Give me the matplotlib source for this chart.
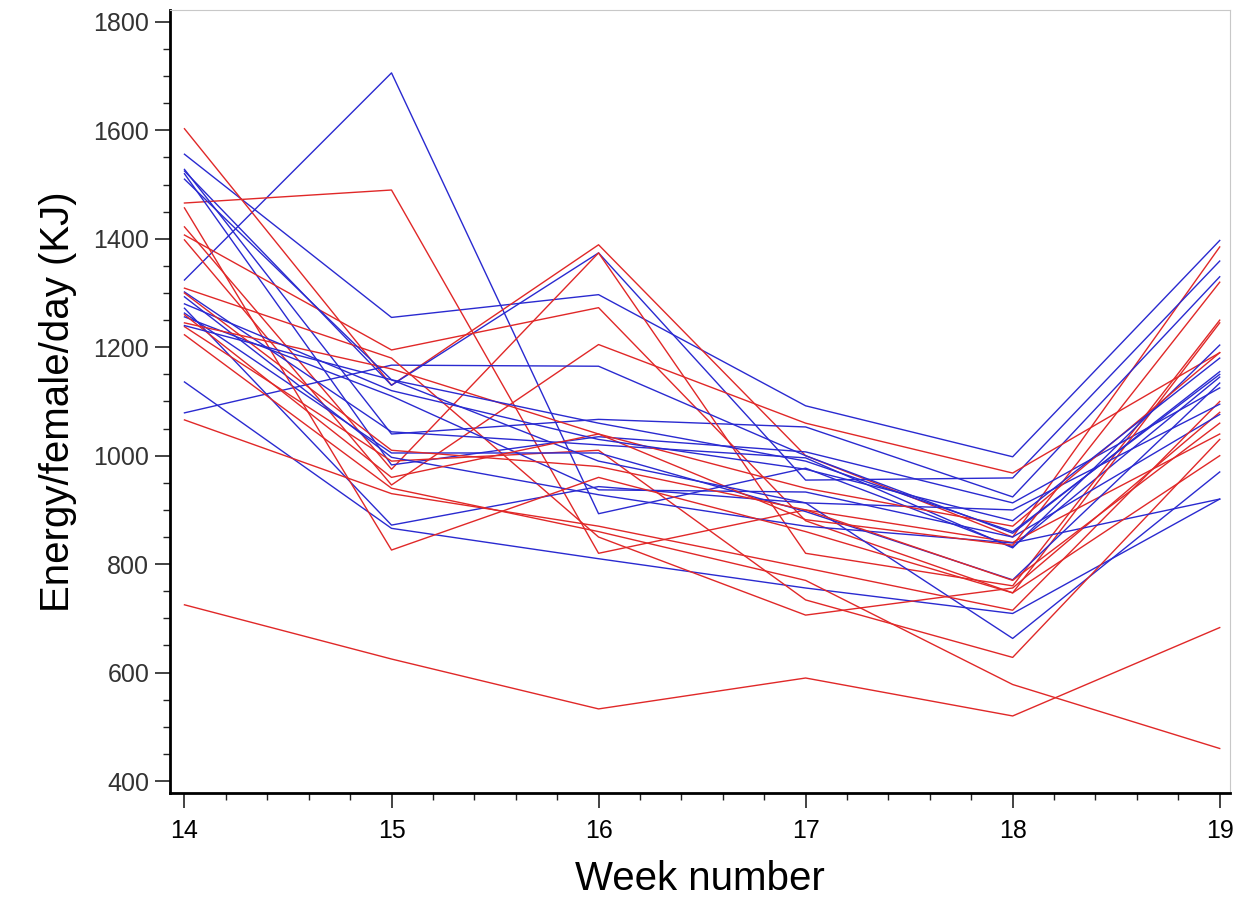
import matplotlib

matplotlib.use("Agg")
import matplotlib.pyplot as plt
from matplotlib.ticker import MultipleLocator

plt.rcParams["font.family"] = ["Liberation Sans", "DejaVu Sans"]

weeks = [14, 15, 16, 17, 18, 19]

# energy per female per day (KJ), one row per cage
red_series = [
    [725, 625, 533, 590, 520, 683],
    [1603, 1130, 1389, 1000, 850, 1385],
    [1466, 1490, 820, 900, 840, 1040],
    [1422, 975, 1374, 820, 760, 1250],
    [1407, 1195, 1273, 880, 747, 1245],
    [1398, 946, 1205, 1060, 968, 1190],
    [1309, 1180, 850, 706, 756, 1080],
    [1238, 990, 1010, 734, 628, 1030],
    [1223, 940, 860, 770, 578, 460],
    [1066, 930, 870, 793, 715, 1100],
    [1457, 826, 960, 860, 747, 1000],
    [1245, 1160, 1040, 882, 835, 1320],
    [1260, 960, 1040, 940, 870, 1190],
    [1300, 1010, 980, 900, 770, 1060],
]
blue_series = [
    [1324, 1706, 893, 977, 832, 1145],
    [1556, 1255, 1297, 1092, 998, 1397],
    [1525, 1130, 1374, 955, 959, 1359],
    [1528, 1040, 1067, 1053, 924, 1330],
    [1520, 983, 1035, 1007, 913, 1125],
    [1136, 866, 810, 756, 709, 920],
    [1079, 1167, 1165, 1000, 857, 1155],
    [1272, 872, 943, 913, 663, 970],
    [1263, 1005, 1005, 897, 771, 1134],
    [1256, 1110, 937, 933, 850, 1076],
    [1293, 997, 928, 870, 839, 920],
    [1302, 1044, 1020, 996, 830, 1204],
    [1510, 1140, 990, 913, 900, 1095],
    [1280, 1120, 1030, 975, 880, 1180],
    [1240, 1140, 1060, 990, 860, 1150],
]

RED = "#e02828"
BLUE = "#2a2ad0"

fig = plt.figure(figsize=(12.37, 9.08), dpi=100)
ax = fig.add_axes([0.1374, 0.1267, 0.857, 0.8623])

n = max(len(red_series), len(blue_series))
for i in range(n):
    if i < len(blue_series):
        ax.plot(weeks, blue_series[i], color=BLUE, linewidth=1.0)
    if i < len(red_series):
        ax.plot(weeks, red_series[i], color=RED, linewidth=1.0)

ax.set_xlim(13.93, 19.05)
ax.set_ylim(378, 1822)
ax.xaxis.set_major_locator(MultipleLocator(1))
ax.xaxis.set_minor_locator(MultipleLocator(0.2))
ax.yaxis.set_major_locator(MultipleLocator(200))
ax.yaxis.set_minor_locator(MultipleLocator(50))

ax.tick_params(axis="both", which="major", direction="out", length=11,
               width=1.2, color="#222222")
ax.tick_params(axis="both", which="minor", direction="out", length=5,
               width=1.0, color="#222222")
ax.tick_params(axis="x", which="major", labelsize=18, pad=8)
ax.tick_params(axis="y", which="major", labelsize=18, pad=4,
               labelcolor="#333333")

for side in ("left", "bottom"):
    ax.spines[side].set_linewidth(2.0)
    ax.spines[side].set_color("black")
for side in ("top", "right"):
    ax.spines[side].set_linewidth(0.8)
    ax.spines[side].set_color("#c8c8c8")

ax.set_xlabel("Week number", fontsize=29, labelpad=12)
ax.set_ylabel("Energy/female/day (KJ)", fontsize=29, labelpad=12)

fig.savefig("out.png", dpi=100)
plt.close(fig)
